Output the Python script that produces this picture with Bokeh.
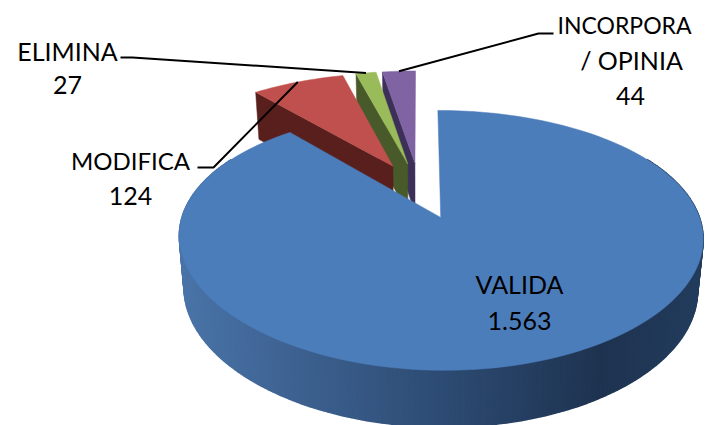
import math
from bokeh.plotting import figure
from bokeh.embed import file_html
from bokeh.resources import INLINE
from bokeh.core.properties import value

categories = ["VALIDA", "MODIFICA", "ELIMINA", "INCORPORA / OPINIA"]
values = [1563, 124, 27, 44]
value_labels = ["1.563", "124", "27", "44"]
top_colors = ["#4c7dbb", "#bf504d", "#9abb59", "#7f63a2"]
wall_colors = ["#2f4e78", "#591f1d", "#48592a", "#3d3058"]

W, H = 706, 425
EXPLODE = 0.24
CX, CY = 419.0, 189.6
AX, BY, K, KX = 250.0, 116.4, 0.17, 0.15
DEPTH, BY_LOW, AX_LOW = 50.5, 120.5, 245.0


def project(x, y, low=False):
    w = 1 + K * y
    wx = 1 + KX * y
    if low:
        return CX + AX_LOW * x / wx, CY + DEPTH - BY_LOW * y / w
    return CX + AX * x / wx, CY - BY * y / w


def disc(mid, t, r=1.0):
    a, b = math.radians(mid), math.radians(t)
    return (EXPLODE * math.sin(a) + r * math.sin(b), EXPLODE * math.cos(a) + r * math.cos(b))


def mix(c1, c2, f):
    return "#%02x%02x%02x" % tuple(round(c1[i] + (c2[i] - c1[i]) * f) for i in range(3))


total = sum(values)
spans = []
start = 0.0
for v in values:
    end = start + 360.0 * v / total
    spans.append((start, end, (start + end) / 2))
    start = end

p = figure(width=W, height=H, x_range=(0, W), y_range=(H, 0), toolbar_location=None,
           output_backend="svg", min_border=0, margin=(0, 0, 0, 0),
           background_fill_color="white", border_fill_color="white", outline_line_color=None)
p.axis.visible = False
p.grid.visible = False


def sector(i):
    s, e, m = spans[i]
    n = max(4, int((e - s) / 1.5))
    pts = [project(*disc(m, 0, 0))]
    pts += [project(*disc(m, s + (e - s) * j / n)) for j in range(n + 1)]
    return [q[0] for q in pts], [q[1] for q in pts]


for i in (3, 2, 1):
    s, e, m = spans[i]
    a, b = disc(m, 0, 0), disc(m, s)
    pts = [project(*a), project(*b), project(*b, low=True), project(*a, low=True)]
    p.patch([q[0] for q in pts], [q[1] for q in pts], fill_color=wall_colors[i], line_color=wall_colors[i], line_width=0.5)
    xs, ys = sector(i)
    p.patch(xs, ys, fill_color=top_colors[i], line_color=top_colors[i], line_width=0.5)

s, e, m = spans[0]
stops = [(180, (0x4a, 0x74, 0xa8)), (440, (0x2d, 0x4b, 0x73)), (600, (0x1e, 0x33, 0x50)), (705, (0x23, 0x3d, 0x5e))]


def shade(x):
    for (x0, c0), (x1, c1) in zip(stops, stops[1:]):
        if x <= x1:
            return mix(c0, c1, max(0.0, (x - x0) / (x1 - x0)))
    return mix(stops[-1][1], stops[-1][1], 0)


wx, wy, wc = [], [], []
STEP = 1.0
t = 60.0
while t < 300.0:
    a, b = disc(m, t), disc(m, t + STEP)
    q = [project(*a), project(*b), project(*b, low=True), project(*a, low=True)]
    wx.append([r[0] for r in q])
    wy.append([r[1] for r in q])
    wc.append(shade(sum(r[0] for r in q) / 4))
    t += STEP
p.patches(wx, wy, fill_color=wc, line_color=wc, line_width=1.5)

xs, ys = sector(0)
p.patch(xs, ys, fill_color=top_colors[0], line_color=top_colors[0], line_width=0.5)

elbows = {1: [(197, 167), (213, 167)], 2: [(120, 57), (132, 57)], 3: [(553, 33), (538, 33)]}
for i, pts in elbows.items():
    end = project(*disc(spans[i][2], spans[i][2]))
    p.line([q[0] for q in pts] + [end[0]], [q[1] for q in pts] + [end[1]], line_color="black", line_width=2)

label_text = ["VALIDA", value_labels[0], "MODIFICA", value_labels[1], "ELIMINA", value_labels[2],
              "INCORPORA", "/ OPINIA", value_labels[3]]
label_x = [519, 519, 130, 130, 67, 67, 624, 631, 630]
label_y = [283, 320, 160, 195, 50, 84, 24, 59, 95]
label_size = ["25px", "25px", "24px", "25px", "25px", "25px", "23px", "25px", "25px"]
p.text(label_x, label_y, text=label_text, text_align="center", text_baseline="middle",
       text_font=value("Lato"), text_font_size=label_size, text_color="black")

open("out.html", "w").write(file_html(p, INLINE))
